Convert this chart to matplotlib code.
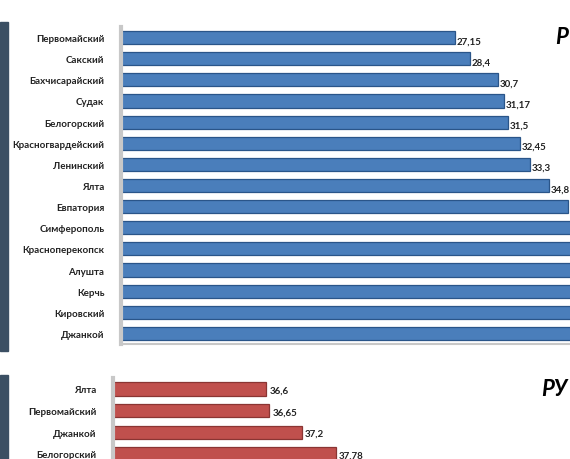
import matplotlib.pyplot as plt
from matplotlib.patches import Rectangle

plt.rcParams['font.family'] = ['Lato', 'DejaVu Sans']

# top chart (blue) - last bars are cut off by the screenshot edge, values estimated
top_names = ["Первомайский", "Сакский", "Бахчисарайский", "Судак", "Белогорский",
             "Красногвардейский", "Ленинский", "Ялта", "Евпатория", "Симферополь",
             "Красноперекопск", "Алушта", "Керчь", "Кировский", "Джанкой"]
top_values = [27.15, 28.4, 30.7, 31.17, 31.5, 32.45, 33.3, 34.8, 36.4,
              37.4, 38.1, 38.35, 39.2, 40.1, 41.6]
# only the labels that are visible in the screenshot
top_labels = ["27,15", "28,4", "30,7", "31,17", "31,5", "32,45", "33,3", "34,8"]

# bottom chart (red)
bot_names = ["Ялта", "Первомайский", "Джанкой", "Белогорский"]
bot_values = [36.6, 36.65, 37.2, 37.78]
bot_labels = ["36,6", "36,65", "37,2", "37,78"]

W, H = 570, 460
fig = plt.figure(figsize=(W / 100, H / 100), dpi=100)
fig.patch.set_facecolor("white")


def px_axes(x0, y_top, x1, y_bot):
    return fig.add_axes([x0 / W, 1 - y_bot / H, (x1 - x0) / W, (y_bot - y_top) / H])


def style(ax, names):
    ax.set_yticks(range(len(names)))
    ax.set_yticklabels(names, fontsize=7, fontweight="bold", color="#222222")
    ax.tick_params(axis="y", length=0, pad=12)
    ax.set_xticks([])
    for s in ["top", "right"]:
        ax.spines[s].set_visible(False)
    ax.spines["left"].set_color("#c8c8c8")
    ax.spines["left"].set_linewidth(3)
    ax.spines["bottom"].set_color("#c8c8c8")
    ax.spines["bottom"].set_linewidth(1.5)
    ax.set_facecolor("none")


# top axes
ax1 = px_axes(121, 28, 570, 345)
ax1.barh(range(len(top_names)), top_values, height=0.62,
         color="#4a7ebb", edgecolor="#2a5589", linewidth=0.9)
ax1.set_xlim(0, (570 - 121) / 12.29)
ax1.set_ylim(len(top_names) - 0.5, -0.5)
style(ax1, top_names)
for i, (v, t) in enumerate(zip(top_values, top_labels)):
    ax1.text(v + 0.15, i + 0.15, t, fontsize=7, fontweight="bold",
             color="#222222", va="center", ha="left", clip_on=False)

# bottom axes
ax2 = px_axes(113, 379, 570, 379 + 4 * 21.7)
ax2.barh(range(len(bot_names)), bot_values, height=0.62,
         color="#c0504d", edgecolor="#8a3533", linewidth=0.9)
ax2.set_xlim(34, 34 + (570 - 113) / 59)
ax2.set_ylim(len(bot_names) - 0.5, -0.5)
style(ax2, bot_names)
ax2.spines["bottom"].set_visible(False)
for i, (v, t) in enumerate(zip(bot_values, bot_labels)):
    ax2.text(v + 0.05, i + 0.05, t, fontsize=7, fontweight="bold",
             color="#222222", va="center", ha="left", clip_on=False)

# slide decorations: dark side strips and cut-off titles
fig.patches.append(Rectangle((0, 1 - 352 / H), 8 / W, (352 - 23) / H,
                             transform=fig.transFigure, color="#3b4f63", zorder=0))
fig.patches.append(Rectangle((0, 0), 8 / W, (460 - 376) / H,
                             transform=fig.transFigure, color="#3b4f63", zorder=0))
fig.text(555 / W, 1 - 38 / H, "Р", fontsize=16, fontweight="bold", style="italic",
         ha="left", va="center", color="black")
fig.text(541 / W, 1 - 390 / H, "РУ", fontsize=16, fontweight="bold", style="italic",
         ha="left", va="center", color="black")

fig.savefig("out.png", dpi=100)
